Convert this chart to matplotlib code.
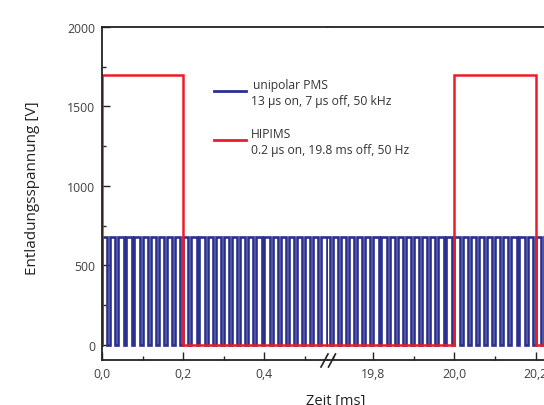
import numpy as np
import matplotlib.pyplot as plt
from matplotlib.lines import Line2D
from matplotlib.ticker import MultipleLocator

plt.rcParams['font.family'] = ['Open Sans', 'DejaVu Sans']

# unipolar PMS: 13 us on, 7 us off (Zeit in ms)
pms_on = 0.013
pms_off = 0.007
pms_level = 680
pms_end = 20.4

# HIPIMS: Flanken und Pegel
hipims_t = [0.0, 0.0, 0.2, 0.2, 20.0, 20.0, 20.2, 20.2, 20.4]
hipims_v = [0, 1700, 1700, 0, 0, 1700, 1700, 0, 0]

left_ticks = [0.0, 0.2, 0.4]
left_labels = ['0,0', '0,2', '0,4']
right_ticks = [19.8, 20.0, 20.2]
right_labels = ['19,8', '20,0', '20,2']

legend_names = ['unipolar PMS', 'HIPIMS']
legend_info = ['13 µs on, 7 µs off, 50 kHz', '0.2 µs on, 19.8 ms off, 50 Hz']

blue = '#2b2f8e'
red = '#ee1c25'
dark = '#222222'
grey = '#404040'

# Rechteckfolge aus den Pulsparametern
period = pms_on + pms_off
starts = np.arange(0, pms_end, period)
pms_t = np.column_stack([starts, starts, starts + pms_on, starts + pms_on]).ravel()
pms_v = np.tile([0, pms_level, pms_level, 0], len(starts))

W, H = 544, 406
fig = plt.figure(figsize=(W / 100, H / 100), dpi=100)

x0, xb, y_top, y_bot = 102, 328, 28, 361
ax1 = fig.add_axes([x0 / W, 1 - y_bot / H, (xb - x0) / W, (y_bot - y_top) / H])
ax2 = fig.add_axes([xb / W, 1 - y_bot / H, (620 - xb) / W, (y_bot - y_top) / H])

px_per_ms = 406.0
for ax in (ax1, ax2):
    ax.plot(pms_t, pms_v, color=blue, lw=1.9, solid_joinstyle='miter')
    ax.plot(hipims_t, hipims_v, color=red, lw=1.8, solid_joinstyle='miter')
    ax.set_ylim(-95, 2000)
    ax.spines['right'].set_visible(False)
    for s in ('top', 'bottom', 'left'):
        ax.spines[s].set_color(dark)
        ax.spines[s].set_linewidth(1.3)
    ax.tick_params(which='both', direction='in', color=dark, labelcolor=grey,
                   labelsize=8.8, width=1.0)
    ax.tick_params(which='major', length=6, pad=5)
    ax.tick_params(which='minor', length=3)
    ax.xaxis.set_minor_locator(MultipleLocator(0.1))

ax1.set_xlim(0, (xb - x0) / px_per_ms)
ax1.set_xticks(left_ticks)
ax1.set_xticklabels(left_labels)
ax1.yaxis.set_major_locator(MultipleLocator(500))
ax1.yaxis.set_minor_locator(MultipleLocator(250))

r0 = 19.8 - (373.3 - xb) / px_per_ms
ax2.set_xlim(r0, r0 + (620 - xb) / px_per_ms)
ax2.set_xticks(right_ticks)
ax2.set_xticklabels(right_labels)
ax2.spines['left'].set_visible(False)
ax2.tick_params(axis='y', which='both', left=False, labelleft=False)

# Achsenbruch
for cx in (324.5, 332):
    fig.add_artist(Line2D([(cx - 3.5) / W, (cx + 3.5) / W],
                          [1 - 368 / H, 1 - 355 / H], color=dark, lw=1.2))

# Legende
rows = [(92, 86, 102, blue), (141, 135, 151, red)]
for (yl, yn, yi, c), name, info in zip(rows, legend_names, legend_info):
    fig.add_artist(Line2D([214 / W, 246 / W], [1 - yl / H, 1 - yl / H], color=c, lw=2))
    fig.text(253 / W if c == blue else 251 / W, 1 - yn / H, name, fontsize=8.7,
             color='#333333', va='center')
    fig.text(251 / W, 1 - yi / H, info, fontsize=8.7, color='#333333', va='center')

fig.text(33 / W, 1 - 188 / H, 'Entladungsspannung [V]', rotation=90, fontsize=11,
         color=dark, ha='center', va='center')
fig.text(336 / W, 1 - 402 / H, 'Zeit [ms]', fontsize=10.5, color=dark,
         ha='center', va='center')

fig.savefig('out.png', dpi=100)
